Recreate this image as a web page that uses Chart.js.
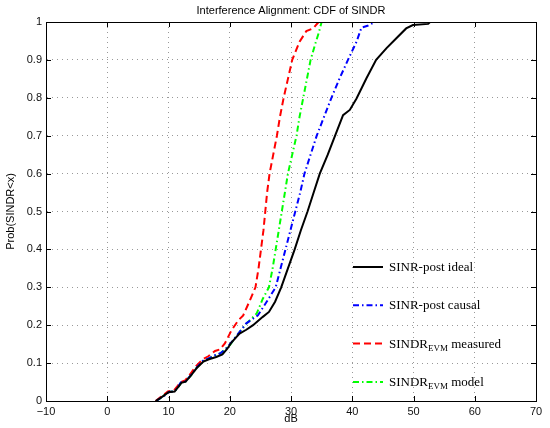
<!DOCTYPE html>
<html>
<head>
<meta charset="utf-8">
<script src="https://cdn.jsdelivr.net/npm/chart.js@4"></script>
<style>
  body { margin: 0; background: #fff; }
</style>
</head>
<body>
<canvas id="cdfChart" width="550" height="428"></canvas>
<script>
// CDF curves (x in dB, y = probability)
const idealX = [7.9, 8.6, 9.3, 10.0, 11.0, 11.6, 12.1, 12.8, 13.6, 14.6, 15.7, 16.6, 17.8, 18.8, 19.6, 20.3, 21.6, 22.7, 23.8, 25.4, 26.4, 27.4, 28.4, 29.5, 30.6, 31.6, 32.7, 33.7, 34.7, 36.0, 37.2, 38.5, 39.6, 40.7, 42.3, 43.9, 45.6, 47.2, 48.8, 49.9, 52.4, 52.7];
const idealY = [0, 0.007, 0.015, 0.023, 0.025, 0.037, 0.048, 0.051, 0.066, 0.087, 0.104, 0.11, 0.116, 0.123, 0.138, 0.155, 0.178, 0.188, 0.2, 0.222, 0.235, 0.262, 0.3, 0.35, 0.4, 0.45, 0.5, 0.55, 0.6, 0.65, 0.7, 0.754, 0.768, 0.798, 0.851, 0.9, 0.931, 0.957, 0.983, 0.992, 0.995, 1];

const causalX = [8.0, 8.7, 9.4, 10.1, 11.0, 11.6, 12.0, 12.8, 13.6, 14.6, 15.6, 16.5, 17.5, 18.5, 19.5, 20.3, 21.5, 22.7, 24.6, 26.0, 27.5, 28.3, 29.1, 29.9, 30.7, 31.5, 32.2, 33.2, 34.2, 35.4, 36.6, 37.9, 39.3, 40.7, 41.5, 42.5, 43.7];
const causalY = [0, 0.008, 0.015, 0.024, 0.026, 0.038, 0.049, 0.052, 0.067, 0.088, 0.106, 0.112, 0.12, 0.126, 0.14, 0.155, 0.18, 0.205, 0.226, 0.261, 0.3, 0.35, 0.4, 0.45, 0.5, 0.55, 0.6, 0.65, 0.7, 0.75, 0.8, 0.85, 0.9, 0.948, 0.985, 0.99, 1];

const measuredX = [7.9, 8.5, 9.2, 9.9, 10.9, 11.5, 12.0, 12.7, 13.5, 14.5, 15.6, 16.5, 17.6, 18.4, 19.2, 20.3, 21.4, 22.2, 23.3, 24.2, 24.7, 25.1, 25.5, 25.8, 26.1, 26.5, 27.1, 27.7, 28.2, 28.8, 29.5, 30.2, 31.4, 32.5, 33.6, 34.5];
const measuredY = [0, 0.008, 0.016, 0.025, 0.028, 0.04, 0.05, 0.054, 0.07, 0.092, 0.11, 0.118, 0.132, 0.136, 0.152, 0.187, 0.213, 0.226, 0.266, 0.3, 0.35, 0.4, 0.45, 0.5, 0.55, 0.6, 0.65, 0.7, 0.75, 0.8, 0.85, 0.9, 0.948, 0.976, 0.983, 1];

const modelX = [8.0, 8.6, 9.3, 10.0, 11.0, 11.6, 12.1, 12.8, 13.6, 14.6, 15.7, 16.5, 17.6, 18.5, 20.0, 21.4, 22.7, 24.4, 25.4, 26.4, 27.0, 27.5, 28.0, 28.5, 29.0, 29.5, 30.2, 30.9, 31.4, 32.0, 32.6, 33.2, 33.9, 34.5, 35.0];
const modelY = [0, 0.007, 0.015, 0.024, 0.026, 0.037, 0.049, 0.052, 0.066, 0.088, 0.106, 0.112, 0.12, 0.126, 0.147, 0.178, 0.204, 0.231, 0.27, 0.3, 0.35, 0.4, 0.45, 0.5, 0.55, 0.6, 0.65, 0.7, 0.75, 0.8, 0.85, 0.9, 0.939, 0.97, 1];

// legend entries: main text, subscript, trailing text
const legendItems = [
  ["SINR-post ideal", "", ""],
  ["SINR-post causal", "", ""],
  ["SINDR", "EVM", " measured"],
  ["SINDR", "EVM", " model"]
];

const toPoints = (xs, ys) => xs.map((x, i) => ({ x: x, y: ys[i] }));

const sans = "'Liberation Sans', Arial, sans-serif";
const serif = "'Liberation Serif', 'Times New Roman', serif";

// box, inward ticks and the serif legend with subscripts
const matlabLook = {
  id: "matlabLook",
  afterDatasetsDraw(chart) {
    const ctx = chart.ctx;
    const a = chart.chartArea;
    const xs = chart.scales.x;
    const ys = chart.scales.y;
    ctx.save();
    ctx.strokeStyle = "#000";
    ctx.lineWidth = 1;
    ctx.setLineDash([]);
    ctx.strokeRect(Math.round(a.left) + 0.5, Math.round(a.top) + 0.5,
      Math.round(a.right - a.left), Math.round(a.bottom - a.top));
    ctx.beginPath();
    xs.ticks.forEach((t) => {
      const px = Math.round(xs.getPixelForValue(t.value)) + 0.5;
      ctx.moveTo(px, a.bottom); ctx.lineTo(px, a.bottom - 5);
      ctx.moveTo(px, a.top); ctx.lineTo(px, a.top + 5);
    });
    ys.ticks.forEach((t) => {
      const py = Math.round(ys.getPixelForValue(t.value)) + 0.5;
      ctx.moveTo(a.left, py); ctx.lineTo(a.left + 5, py);
      ctx.moveTo(a.right, py); ctx.lineTo(a.right - 5, py);
    });
    ctx.stroke();

    // legend
    const x0 = a.right - 183;
    const x1 = a.right - 153;
    const tx = a.right - 147;
    chart.data.datasets.forEach((ds, i) => {
      const y = a.top + 245 + i * 38.3;
      ctx.strokeStyle = ds.borderColor;
      ctx.lineWidth = ds.borderWidth;
      ctx.setLineDash(ds.borderDash || []);
      ctx.beginPath();
      ctx.moveTo(x0, y);
      ctx.lineTo(x1, y);
      ctx.stroke();
      const item = legendItems[i];
      ctx.fillStyle = "#000";
      ctx.textBaseline = "alphabetic";
      ctx.font = "13px " + serif;
      ctx.fillText(item[0], tx, y + 4);
      let w = ctx.measureText(item[0]).width;
      if (item[1]) {
        ctx.font = "9px " + serif;
        ctx.fillText(item[1], tx + w, y + 7);
        w += ctx.measureText(item[1]).width;
        ctx.font = "13px " + serif;
        ctx.fillText(item[2], tx + w, y + 4);
      }
    });
    ctx.restore();
  }
};

const ctx = document.getElementById("cdfChart").getContext("2d");
new Chart(ctx, {
  type: "line",
  data: {
    datasets: [
      {
        label: "SINR-post ideal",
        data: toPoints(idealX, idealY),
        borderColor: "#000000",
        borderWidth: 2,
        borderDash: [],
      },
      {
        label: "SINR-post causal",
        data: toPoints(causalX, causalY),
        borderColor: "#0000ff",
        borderWidth: 2,
        borderDash: [6, 3, 1.5, 3],
      },
      {
        label: "SINDR EVM measured",
        data: toPoints(measuredX, measuredY),
        borderColor: "#ff0000",
        borderWidth: 2,
        borderDash: [7, 4],
      },
      {
        label: "SINDR EVM model",
        data: toPoints(modelX, modelY),
        borderColor: "#00ff00",
        borderWidth: 2,
        borderDash: [6, 3, 1.5, 3],
      },
    ],
  },
  options: {
    responsive: false,
    animation: false,
    layout: { padding: { left: 0, right: 14, top: 0, bottom: 0 } },
    elements: {
      point: { radius: 0 },
      line: { tension: 0, fill: false },
    },
    plugins: {
      legend: { display: false },
      tooltip: { enabled: false },
      title: {
        display: true,
        fullSize: false,
        text: "Interference Alignment: CDF of SINDR",
        color: "#000",
        font: { family: sans, size: 11, weight: "normal" },
        padding: { top: 4, bottom: 4.8 },
      },
    },
    scales: {
      x: {
        type: "linear",
        min: -10,
        max: 70,
        afterFit: (scale) => { scale.height = 27; },
        ticks: {
          stepSize: 10,
          padding: 4,
          color: "#111",
          font: { family: sans, size: 11 },
          callback: (v) => (v < 0 ? "\u2212" + Math.abs(v) : String(v)),
        },
        grid: { color: "#999999", drawTicks: false, lineWidth: 1 },
        border: { display: true, color: "#000", dash: [1, 4] },
        title: {
          display: true,
          text: "dB",
          color: "#000",
          font: { family: sans, size: 11 },
          padding: { top: 0, bottom: 2 },
        },
      },
      y: {
        type: "linear",
        min: 0,
        max: 1,
        afterFit: (scale) => { scale.width = 46; },
        ticks: {
          stepSize: 0.1,
          padding: 4,
          color: "#111",
          font: { family: sans, size: 11 },
          callback: (v) => String(+v.toFixed(1)),
        },
        grid: { color: "#999999", drawTicks: false, lineWidth: 1 },
        border: { display: true, color: "#000", dash: [1, 4] },
        title: {
          display: true,
          text: "Prob(SINDR<x)",
          color: "#000",
          font: { family: sans, size: 11 },
          padding: { top: 4, bottom: 0 },
        },
      },
    },
  },
  plugins: [matlabLook],
});
</script>
</body>
</html>
